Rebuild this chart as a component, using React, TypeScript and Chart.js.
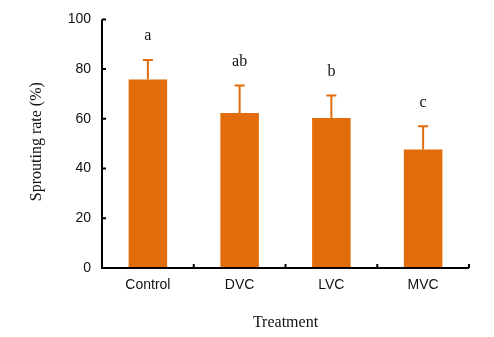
import React, { useEffect, useRef } from "react";
import { Chart, registerables } from "chart.js";

Chart.register(...registerables);

const categories = ["Control", "DVC", "LVC", "MVC"];
const sproutingRate = [75.8, 62.3, 60.3, 47.7];
const errorUpper = [7.9, 11.1, 9.1, 9.3];
const letters = ["a", "ab", "b", "c"];
const yTicks = [0, 20, 40, 60, 80, 100];

const ORANGE = "#E36C0A";
const SANS = "'Liberation Sans', Arial, sans-serif";
const SERIF = "'Liberation Serif', 'Times New Roman', serif";

const decorPlugin = {
  id: "decor",
  afterDatasetsDraw(chart: any) {
    const { ctx, chartArea, scales } = chart;
    const xs = scales.x;
    const ys = scales.y;
    ctx.save();
    // error bars
    ctx.strokeStyle = ORANGE;
    ctx.lineWidth = 2;
    sproutingRate.forEach((v, i) => {
      const xc = xs.getPixelForValue(i);
      const yBar = ys.getPixelForValue(v);
      const yTop = ys.getPixelForValue(v + errorUpper[i]);
      ctx.beginPath();
      ctx.moveTo(xc, yBar);
      ctx.lineTo(xc, yTop);
      ctx.moveTo(xc - 5, yTop);
      ctx.lineTo(xc + 5, yTop);
      ctx.stroke();
      // significance letters
      ctx.fillStyle = "#111";
      ctx.font = `16px ${SERIF}`;
      ctx.textAlign = "center";
      ctx.textBaseline = "middle";
      ctx.fillText(letters[i], xc, yTop - 24);
    });
    // axes
    ctx.strokeStyle = "#000";
    ctx.lineWidth = 2;
    ctx.beginPath();
    ctx.moveTo(chartArea.left, chartArea.top);
    ctx.lineTo(chartArea.left, chartArea.bottom);
    ctx.lineTo(chartArea.right, chartArea.bottom);
    ctx.stroke();
    // inward ticks on y
    ctx.beginPath();
    yTicks.forEach((t) => {
      const y = ys.getPixelForValue(t);
      ctx.moveTo(chartArea.left, y);
      ctx.lineTo(chartArea.left + 4, y);
    });
    // inward ticks on x at category boundaries
    const catW = (chartArea.right - chartArea.left) / categories.length;
    for (let i = 1; i <= categories.length; i++) {
      const x = chartArea.left + catW * i;
      ctx.moveTo(x, chartArea.bottom);
      ctx.lineTo(x, chartArea.bottom - 4);
    }
    ctx.stroke();
    // titles
    ctx.fillStyle = "#111";
    ctx.font = `16px ${SERIF}`;
    ctx.textAlign = "center";
    ctx.textBaseline = "middle";
    ctx.fillText("Treatment", (chartArea.left + chartArea.right) / 2, 323);
    ctx.translate(37, (chartArea.top + chartArea.bottom) / 2 - 2);
    ctx.rotate(-Math.PI / 2);
    ctx.fillText("Sprouting rate (%)", 0, 0);
    ctx.restore();
  },
};

export default function App() {
  const ref = useRef<HTMLCanvasElement>(null);
  useEffect(() => {
    if (!ref.current) return;
    const chart = new Chart(ref.current, {
      type: "bar",
      data: {
        labels: categories,
        datasets: [
          {
            data: sproutingRate,
            backgroundColor: ORANGE,
            borderWidth: 0,
            categoryPercentage: 1,
            barPercentage: 0.42,
          },
        ],
      },
      options: {
        responsive: false,
        animation: false,
        layout: { padding: { top: 16, right: 25, left: 0, bottom: 0 } },
        plugins: { legend: { display: false }, tooltip: { enabled: false } },
        scales: {
          x: {
            grid: { display: false, drawTicks: false },
            border: { display: false },
            ticks: { color: "#111", font: { family: SANS, size: 14 }, padding: 9 },
            afterFit: (s: any) => {
              s.height = 337 - 268;
            },
          },
          y: {
            min: 0,
            max: 100,
            grid: { display: false, drawTicks: false },
            border: { display: false },
            ticks: {
              stepSize: 20,
              color: "#111",
              font: { family: SANS, size: 14 },
              padding: 11,
            },
            afterFit: (s: any) => {
              s.width = 102;
            },
          },
        },
      },
      plugins: [decorPlugin],
    });
    return () => chart.destroy();
  }, []);
  return (
    <div style={{ position: "fixed", left: 0, top: 0, width: 494, height: 337, background: "#fff" }}>
      <canvas ref={ref} width={494} height={337} />
    </div>
  );
}
